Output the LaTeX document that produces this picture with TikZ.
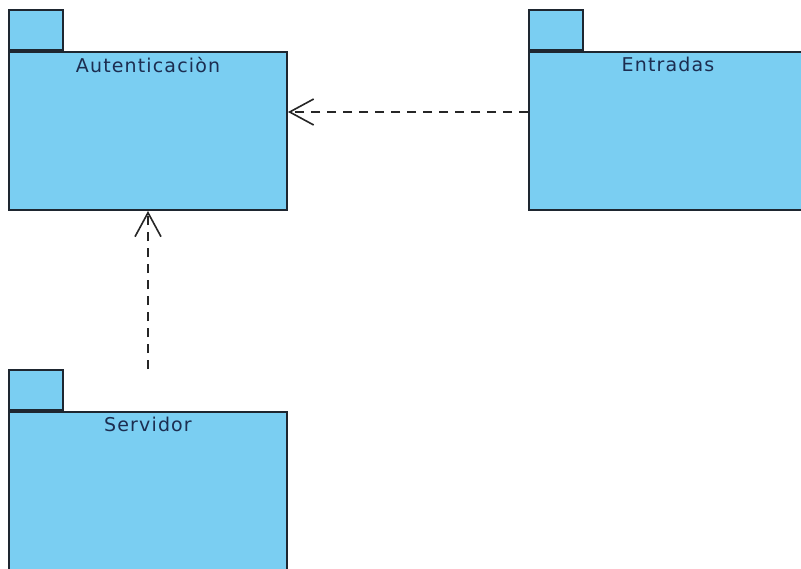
\documentclass[tikz,border=0pt]{standalone}
\usepackage{fontspec}
\setmainfont{DejaVu Sans}
\usetikzlibrary{arrows.meta,positioning}
\definecolor{pkgfill}{RGB}{122,206,242}
\definecolor{pkgline}{RGB}{30,38,48}
\definecolor{pkgtext}{RGB}{28,45,80}
\tikzset{
  pkgbody/.style={draw=pkgline, fill=pkgfill, line width=2pt, minimum width=278pt, minimum height=158pt, inner sep=0pt, anchor=north west},
  pkgtab/.style={draw=pkgline, fill=pkgfill, line width=2pt, minimum width=54pt, minimum height=40pt, inner sep=0pt, anchor=south west},
  pkglabel/.style={text=pkgtext, font=\fontsize{19}{21}\selectfont\addfontfeature{LetterSpace=6}, anchor=north, inner sep=0pt},
  dep/.style={draw=black!85, line width=1.5pt, dash pattern=on 9pt off 7pt, -{Straight Barb[length=24pt,width=26pt,line width=1.6pt]}}
}
\begin{document}
\begin{tikzpicture}[x=1pt,y=-1pt]
\useasboundingbox (0,0) rectangle (801,568);
\clip (0,0) rectangle (801,568);
\fill[white] (0,0) rectangle (801,568);
% Autenticacion
\node[pkgtab] (atab) at (8,51) {};
\node[pkgbody] (aut) at (8,51) {};
\node[pkglabel] (alab) at ([yshift=-6pt]aut.north) {Autenticaciòn};
% Entradas
\node[pkgtab] (etab) at (528,51) {};
\node[pkgbody] (entr) at (528,51) {};
\node[pkglabel] (elab) at ([yshift=-6pt]entr.north) {Entradas};
% Servidor
\node[pkgtab] (stab) at (8,411) {};
\node[pkgbody] (serv) at (8,411) {};
\node[pkglabel] (slab) at ([yshift=-6pt]serv.north) {Servidor};
% connectors
\draw[dep] ([yshift=19pt]entr.west) -- ([yshift=19pt]aut.east);
\draw[dep] (serv.north |- stab.north) -- (aut.south);
\end{tikzpicture}
\end{document}
